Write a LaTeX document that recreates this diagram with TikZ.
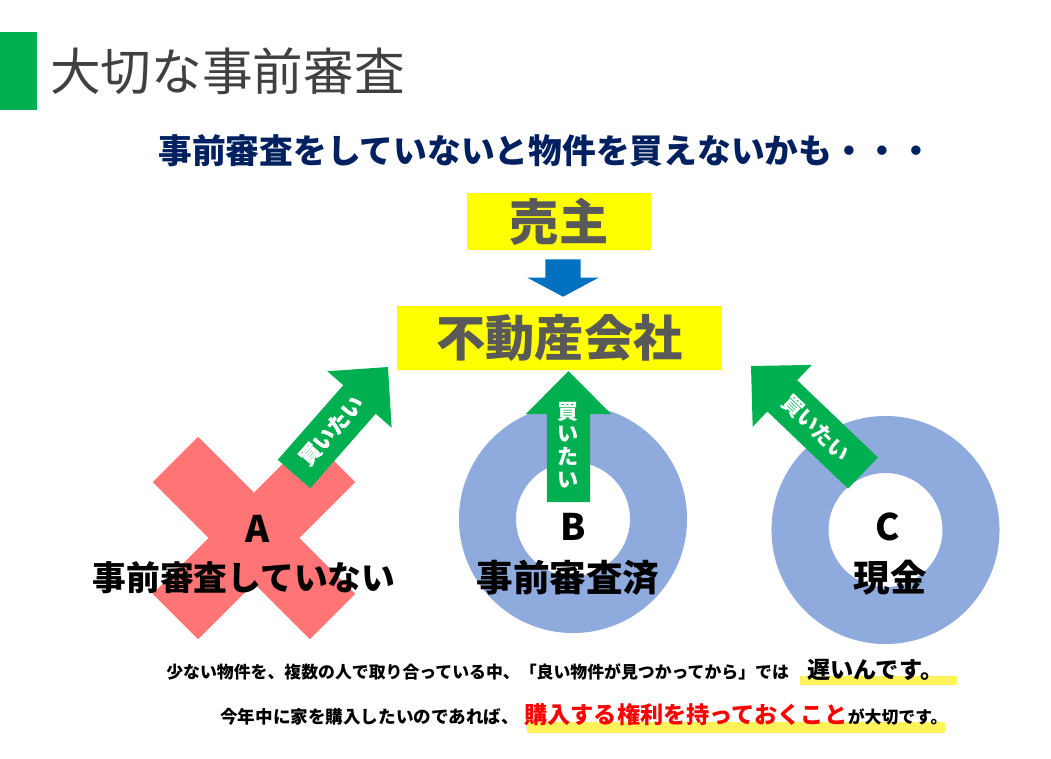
\documentclass[tikz,border=0pt]{standalone}
\usepackage{fontspec}
\setmainfont{Noto Sans CJK JP}
\usepackage{tikz}
\usetikzlibrary{positioning, calc}

\definecolor{sgreen}{HTML}{00B050}
\definecolor{syellow}{HTML}{FFFF00}
\definecolor{sblue}{HTML}{0070C0}
\definecolor{ringblue}{HTML}{8FAADC}
\definecolor{crossred}{HTML}{FF7575}
\definecolor{navy}{HTML}{002060}
\definecolor{titlegray}{HTML}{404040}
\definecolor{boxgray}{HTML}{595959}
\definecolor{marker}{HTML}{FFF25A}
\definecolor{textred}{HTML}{FF0000}

% block arrow: colour, tail, tip, shaft half-width, head half-width, head length
\newcommand{\blockarrow}[6]{%
  \path ($(#3)!#6!(#2)$) coordinate (hb);
  \fill[#1] ($(#2)!#4!90:(#3)$) -- ($(hb)!#4!90:(#3)$) -- ($(hb)!#5!90:(#3)$) -- (#3)
    -- ($(hb)!#5!-90:(#3)$) -- ($(hb)!#4!-90:(#3)$) -- ($(#2)!#4!-90:(#3)$) -- cycle;
}

\begin{document}
\begin{tikzpicture}[x=0.025cm, y=-0.025cm,
        box/.style={fill=syellow, inner sep=0pt, text=boxgray,
                    font=\fontsize{35}{40}\selectfont\bfseries},
        xbar/.style={fill=crossred, minimum width=5.55cm, minimum height=1.6cm, inner sep=0pt},
        donut/.style={circle, draw=ringblue, line width=1.425cm, minimum size=4.275cm, inner sep=0pt},
        want/.style={text=white, inner sep=0pt, font=\fontsize{15}{16.2}\selectfont\bfseries},
        lbl/.style={inner sep=0pt, font=\fontsize{26}{30}\selectfont\bfseries},
        note/.style={anchor=base west, inner sep=0pt, font=\fontsize{12}{14}\selectfont\bfseries}
    ]
    \useasboundingbox (0,0) rectangle (1051,758);
    % Heading
    \node[fill=sgreen, minimum width=0.925cm, minimum height=1.95cm, inner sep=0pt,
          anchor=north west] (bar) at (0,32) {};
    \node[anchor=base west, inner sep=0pt, text=titlegray,
          font=\fontsize{36}{40}\selectfont] (title) at (50,90) {大切な事前審査};
    \node[anchor=base west, inner sep=0pt, text=navy,
          font=\fontsize{24}{28}\selectfont\bfseries] (question) at (158,163)
        {事前審査をしていないと物件を買えないかも・・・};
    % Seller and agency
    \node[box, minimum width=4.6cm, minimum height=1.425cm] (seller) at (559,221.5) {売主};
    \node[box, minimum width=8.125cm, minimum height=1.6cm] (agency) at (559.5,338) {不動産会社};
    \coordinate (dn1) at ($(seller.south)+(4,9)$);
    \coordinate (dn2) at ($(agency.north)+(3.5,-9)$);
    \blockarrow{sblue}{dn1}{dn2}{0.44cm}{0.89cm}{0.475cm}
    % Buyers
    \node[xbar, rotate=45] (crossA) at (254,538) {};
    \node[xbar, rotate=-45] (crossB) at (254,538) {};
    \node[donut] (ringB) at (573,519) {};
    \node[donut] (ringC) at (885.5,530) {};
    % Buy requests
    \coordinate (aT) at (294,474);   \coordinate (aH) at (388,367);
    \coordinate (bT) at (568.5,502); \coordinate (bH) at (568.5,371);
    \coordinate (cT) at (863,473);   \coordinate (cH) at (751,366);
    \foreach \t/\h in {aT/aH, bT/bH, cT/cH}
        \blockarrow{sgreen}{\t}{\h}{0.54cm}{1.07cm}{1.08cm}
    \node[want, rotate=48.7] (wantA) at ($(aT)!0.4!(aH)$) {買いたい};
    \node[want, align=center] (wantB) at (568,445) {買\\い\\た\\い};
    \node[want, rotate=-44] (wantC) at ($(cT)!0.42!(cH)$) {買いたい};
    \node[lbl] (labA) at (258,529) {A};
    \node[lbl, font=\fontsize{24}{28}\selectfont\bfseries] (textA) at (244,578) {事前審査していない};
    \node[lbl] (labB) at (573,527) {B};
    \node[lbl] (textB) at (568,578) {事前審査済};
    \node[lbl] (labC) at (888,527) {C};
    \node[lbl] (textC) at (890,578) {現金};
    % Notes
    \fill[marker] (800,676) rectangle (957,685);
    \fill[marker] (527,722) rectangle (945,733);
    \node[note] (note1) at (166,678)
        {少ない物件を、複数の人で取り合っている中、「良い物件が見つかってから」では};
    \node[note, font=\fontsize{16.5}{20}\selectfont\bfseries] (late)
        at ([xshift=0.45cm]note1.base east) {遅いんです。};
    \node[note, font=\fontsize{12.5}{14}\selectfont\bfseries] (note2) at (220,723)
        {今年中に家を購入したいのであれば、};
    \node[note, text=textred, font=\fontsize{16.5}{20}\selectfont\bfseries] (right)
        at ([xshift=0.12cm]note2.base east) {購入する権利を持っておくこと};
    \node[note] (important) at (right.base east) {が大切です。};
\end{tikzpicture}
\end{document}
